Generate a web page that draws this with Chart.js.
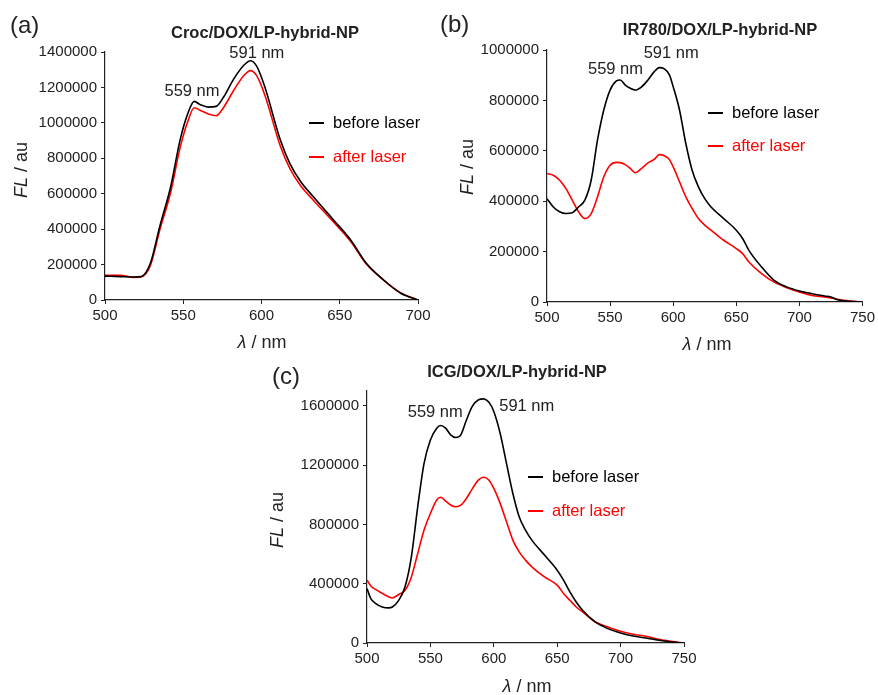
<!DOCTYPE html>
<html>
<head>
<meta charset="utf-8">
<script src="https://cdn.jsdelivr.net/npm/chart.js@4.4.1/dist/chart.umd.min.js"></script>
<style>
    body { margin: 0; background: #fff; width: 878px; height: 695px; position: relative; overflow: hidden; }
    canvas { position: absolute; }
</style>
</head>
<body>
<canvas id="chartA" width="440" height="350" style="left:0;top:0"></canvas>
<canvas id="chartB" width="438" height="350" style="left:440px;top:0"></canvas>
<canvas id="chartC" width="450" height="355" style="left:250px;top:340px"></canvas>
<script>
// ---- data ----
const seriesLabels = ['before laser', 'after laser'];
const xTicksA = [500, 550, 600, 650, 700];
const xTicksBC = [500, 550, 600, 650, 700, 750];
const yTicksA = [0, 200000, 400000, 600000, 800000, 1000000, 1200000, 1400000];
const yTicksB = [0, 200000, 400000, 600000, 800000, 1000000];
const yTicksC = [0, 400000, 800000, 1200000, 1600000];

// (a) Croc/DOX/LP-hybrid-NP
const wavelengthA = [500, 510, 518, 523, 529, 535, 542, 548, 553, 557, 561, 566, 571, 576, 582, 589, 593, 597, 602, 612, 618, 625, 633, 646, 657, 667, 678, 689, 700];
const beforeA = [135000, 132000, 130000, 132000, 207000, 415000, 641000, 904000, 1055000, 1121000, 1102000, 1089000, 1093000, 1149000, 1244000, 1328000, 1351000, 1319000, 1206000, 904000, 773000, 669000, 584000, 452000, 339000, 207000, 113000, 38000, 0];
const afterA = [140000, 140000, 128000, 130000, 195000, 395000, 610000, 860000, 1010000, 1085000, 1070000, 1050000, 1040000, 1090000, 1180000, 1270000, 1295000, 1265000, 1160000, 870000, 745000, 645000, 565000, 440000, 330000, 203000, 112000, 40000, 0];

// (b) IR780/DOX/LP-hybrid-NP
const wavelengthB = [500, 505, 510, 515, 520, 525, 530, 535, 540, 545, 550, 555, 558, 562, 566, 570, 575, 580, 585, 589, 593, 597, 600, 605, 610, 615, 620, 625, 630, 640, 650, 655, 660, 670, 680, 690, 700, 710, 720, 725, 730, 740, 750];
const beforeB = [410000, 377000, 358000, 351000, 354000, 377000, 404000, 483000, 642000, 762000, 841000, 877000, 881000, 861000, 848000, 841000, 854000, 881000, 914000, 930000, 925000, 901000, 854000, 762000, 629000, 523000, 457000, 410000, 377000, 331000, 285000, 252000, 205000, 139000, 86000, 60000, 44000, 33000, 24000, 20000, 9000, 3000, 0];
const afterB = [510000, 503000, 483000, 450000, 404000, 358000, 331000, 351000, 417000, 497000, 543000, 554000, 553000, 545000, 530000, 513000, 530000, 552000, 566000, 585000, 580000, 565000, 536000, 477000, 417000, 371000, 331000, 305000, 285000, 245000, 212000, 192000, 159000, 113000, 79000, 57000, 40000, 26000, 20000, 16000, 11000, 4000, 0];

// (c) ICG/DOX/LP-hybrid-NP
const wavelengthC = [500, 503, 507, 512, 517, 520, 525, 530, 535, 540, 545, 550, 555, 558, 562, 566, 570, 574, 578, 583, 588, 592, 596, 600, 605, 610, 615, 620, 625, 630, 640, 650, 655, 660, 665, 670, 680, 690, 700, 710, 720, 730, 740, 750];
const beforeC = [367000, 300000, 266000, 243000, 237000, 243000, 288000, 379000, 581000, 919000, 1212000, 1370000, 1449000, 1467000, 1449000, 1404000, 1386000, 1404000, 1494000, 1596000, 1641000, 1647000, 1625000, 1562000, 1415000, 1212000, 1010000, 852000, 762000, 694000, 593000, 491000, 424000, 345000, 277000, 221000, 142000, 97000, 68000, 47000, 34000, 18000, 7000, 0];
const afterC = [424000, 385000, 360000, 335000, 312000, 304000, 327000, 356000, 446000, 604000, 762000, 874000, 965000, 983000, 958000, 931000, 919000, 930000, 970000, 1040000, 1100000, 1118000, 1100000, 1043000, 942000, 818000, 694000, 615000, 559000, 514000, 446000, 390000, 334000, 288000, 243000, 210000, 142000, 108000, 79000, 59000, 45000, 25000, 11000, 0];

const FONT = '"Liberation Sans", Arial, Helvetica, sans-serif';
const INK = '#222';
const LINE_COLORS = ['#000000', '#ff0000'];

// draws the panel letter, title, peak labels, legend and the mixed-style axis titles
const panelDecor = {
    id: 'panelDecor',
    afterDraw(chart, args, opts) {
        const ctx = chart.ctx;
        const xs = chart.scales.x;
        const ys = chart.scales.y;
        ctx.save();
        ctx.textBaseline = 'middle';
        ctx.fillStyle = INK;

        ctx.font = '24px ' + FONT;
        ctx.textAlign = 'left';
        ctx.fillText(opts.letter, opts.letterPos[0], opts.letterPos[1]);

        ctx.font = 'bold 16.5px ' + FONT;
        ctx.textAlign = 'center';
        ctx.fillText(opts.title, opts.titlePos[0], opts.titlePos[1]);

        ctx.font = '16.5px ' + FONT;
        opts.peaks.forEach(p => {
            ctx.fillText(p.text, xs.getPixelForValue(p.at[0]), ys.getPixelForValue(p.at[1]));
        });

        // legend
        chart.data.datasets.forEach((ds, i) => {
            const lx = opts.legendPos[0];
            const ly = opts.legendPos[1] + i * opts.legendGap;
            ctx.strokeStyle = ds.borderColor;
            ctx.lineWidth = 2;
            ctx.beginPath();
            ctx.moveTo(lx, ly);
            ctx.lineTo(lx + 15, ly);
            ctx.stroke();
            ctx.fillStyle = ds.borderColor;
            ctx.textAlign = 'left';
            ctx.fillText(ds.label, lx + 24, ly);
        });

        // x title: italic lambda + " / nm"
        ctx.fillStyle = INK;
        drawMixed(ctx, [['italic 18px ' + FONT, 'λ'], ['18px ' + FONT, ' / nm']], opts.xTitlePos[0], opts.xTitlePos[1], 0);
        // y title: italic FL + " / au", rotated
        drawMixed(ctx, [['italic 18px ' + FONT, 'FL'], ['18px ' + FONT, ' / au']], opts.yTitlePos[0], opts.yTitlePos[1], -Math.PI / 2);
        ctx.restore();
    }
};

function drawMixed(ctx, parts, cx, cy, angle) {
    ctx.save();
    ctx.translate(cx, cy);
    ctx.rotate(angle);
    ctx.textAlign = 'left';
    ctx.textBaseline = 'middle';
    let total = 0;
    parts.forEach(p => { ctx.font = p[0]; total += ctx.measureText(p[1]).width; });
    let x = -total / 2;
    parts.forEach(p => {
        ctx.font = p[0];
        ctx.fillText(p[1], x, 0);
        x += ctx.measureText(p[1]).width;
    });
    ctx.restore();
}

function toPoints(xs, ys) {
    return xs.map((x, i) => ({ x: x, y: ys[i] }));
}

function makePanel(canvasId, p) {
    const tickFont = { family: FONT, size: 15 };
    const axisGrid = { display: true, drawOnChartArea: false, drawTicks: true, tickLength: 4, color: INK, lineWidth: 1 };
    const plain = v => String(v);
    return new Chart(document.getElementById(canvasId), {
        type: 'line',
        data: {
            datasets: [
                { label: seriesLabels[0], data: toPoints(p.wl, p.before), borderColor: LINE_COLORS[0], borderWidth: 1.6 },
                { label: seriesLabels[1], data: toPoints(p.wl, p.after), borderColor: LINE_COLORS[1], borderWidth: 1.6 }
            ]
        },
        options: {
            responsive: false,
            animation: false,
            events: [],
            layout: { padding: { top: p.padTop, right: p.padRight, left: 0, bottom: 0 } },
            elements: { point: { radius: 0 }, line: { cubicInterpolationMode: 'monotone' } },
            plugins: {
                legend: { display: false },
                tooltip: { enabled: false },
                panelDecor: p.decor
            },
            scales: {
                x: {
                    type: 'linear',
                    min: p.xMin, max: p.xMax,
                    grid: axisGrid,
                    border: { display: true, color: INK, width: 1.2 },
                    ticks: { color: INK, font: tickFont, padding: 3, maxRotation: 0, callback: plain },
                    afterBuildTicks: s => { s.ticks = p.xTicks.map(v => ({ value: v })); },
                    afterFit: s => { s.height = p.xAxisHeight; }
                },
                y: {
                    type: 'linear',
                    min: 0, max: p.yMax,
                    grid: axisGrid,
                    border: { display: true, color: INK, width: 1.2 },
                    ticks: { color: INK, font: tickFont, padding: 4, callback: plain },
                    afterBuildTicks: s => { s.ticks = p.yTicks.map(v => ({ value: v })); },
                    afterFit: s => { s.width = p.yAxisWidth; }
                }
            }
        },
        plugins: [panelDecor]
    });
}

makePanel('chartA', {
    wl: wavelengthA, before: beforeA, after: afterA,
    xMin: 500, xMax: 700, yMax: 1400000, xTicks: xTicksA, yTicks: yTicksA,
    padTop: 52, padRight: 22, yAxisWidth: 105, xAxisHeight: 50,
    decor: {
        letter: '(a)', letterPos: [10, 26],
        title: 'Croc/DOX/LP-hybrid-NP', titlePos: [265, 33],
        peaks: [{ text: '559 nm', at: [555.6, 1180000] }, { text: '591 nm', at: [597, 1394000] }],
        legendPos: [309, 123], legendGap: 34,
        xTitlePos: [262, 343], yTitlePos: [22, 170]
    }
});

makePanel('chartB', {
    wl: wavelengthB, before: beforeB, after: afterB,
    xMin: 500, xMax: 750, yMax: 1000000, xTicks: xTicksBC, yTicks: yTicksB,
    padTop: 50, padRight: 14, yAxisWidth: 107, xAxisHeight: 48,
    decor: {
        letter: '(b)', letterPos: [0, 25],
        title: 'IR780/DOX/LP-hybrid-NP', titlePos: [280, 30],
        peaks: [{ text: '559 nm', at: [554.3, 924000] }, { text: '591 nm', at: [598.4, 987000] }],
        legendPos: [268, 113], legendGap: 33,
        xTitlePos: [267, 345], yTitlePos: [28, 167]
    }
});

makePanel('chartC', {
    wl: wavelengthC, before: beforeC, after: afterC,
    xMin: 500, xMax: 750, yMax: 1700000, xTicks: xTicksBC, yTicks: yTicksC,
    padTop: 51, padRight: 16, yAxisWidth: 117, xAxisHeight: 52,
    decor: {
        letter: '(c)', letterPos: [22, 37],
        title: 'ICG/DOX/LP-hybrid-NP', titlePos: [267, 32],
        peaks: [{ text: '559 nm', at: [553.8, 1555000] }, { text: '591 nm', at: [626, 1595000] }],
        legendPos: [278, 137], legendGap: 34,
        xTitlePos: [277, 347], yTitlePos: [28, 180]
    }
});
</script>
</body>
</html>
